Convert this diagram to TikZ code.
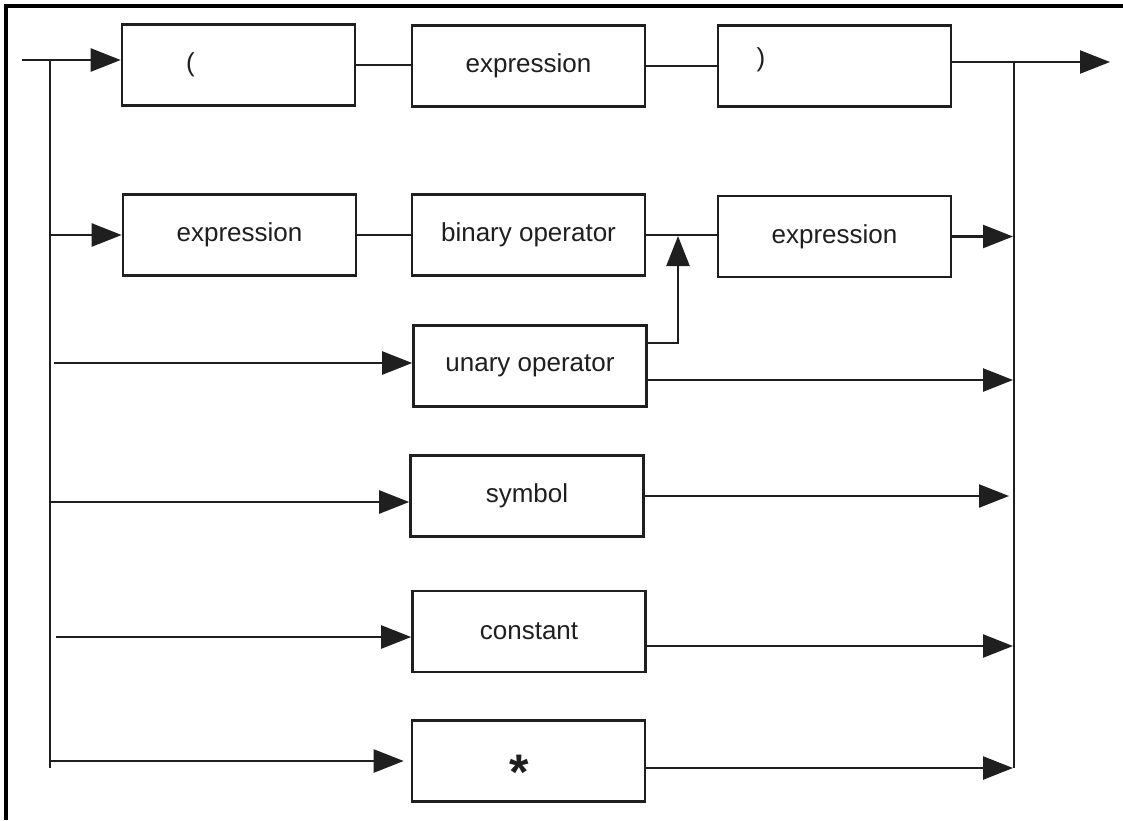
\documentclass[tikz,border=0pt]{standalone}
\usepackage{fontspec}
\setmainfont{Liberation Sans}
\usetikzlibrary{arrows.meta,calc}
\begin{document}
\begin{tikzpicture}[x=1pt,y=-1pt,
  box/.style={draw=black!88, line width=2.6pt, minimum width=233pt, minimum height=81pt,
    inner sep=0pt, font=\fontsize{26}{30}\selectfont, text=black!88},
  wire/.style={line width=2.4pt, draw=black!88},
  arr/.style={wire, -{Triangle[length=30pt,width=23pt]}},
  lbl/.style={font=\fontsize{26}{30}\selectfont, inner sep=0pt, text=black!88}]
\useasboundingbox (0,0) rectangle (1123,820);
\fill[white] (0,0) rectangle (1123,820);
% frame (top and left only)
\draw[line width=4pt] (6,820) -- (6,5.5) -- (1123,5.5);

% boxes
\node[box] (lp) at (238.5,65) {};
\node[lbl] (lpt) at (190.5,65) {(};
\node[box] (e1) at (528.5,66) {expression};
\node[box] (rp) at (834.5,66) {};
\node[lbl] (rpt) at (761,60) {)};
\node[box] (e2) at (239.5,235) {expression};
\node[box] (bo) at (528.5,235) {binary operator};
\node[box] (e3) at (834.5,236.5) {expression};
\node[box] (un) at (530,366) {unary operator};
\node[box] (sy) at (527,496) {symbol};
\node[box] (co) at (529,631.5) {constant};
\node[box] (st) at (528.5,761) {};
\node[lbl, font=\fontsize{50}{52}\selectfont\bfseries, anchor=base] (stt) at (519,789) {*};

% coordinates
\coordinate (in) at (22,60);
\coordinate (bl) at (50,60);
\coordinate (blb) at (50,768);
\coordinate (out) at (1110,62);
\coordinate (br) at (1014,62);
\coordinate (brb) at (1014,768);
\coordinate (j) at (678,236);

% buses
\draw[wire] (bl) -- (blb);
\draw[wire] (br) -- (brb);

% row 1
\draw[arr] (in) -- (in -| lp.west);
\draw[wire] (lp.east) -- (lp.east -| e1.west);
\draw[wire] (e1.east) -- (e1.east -| rp.west);
\draw[arr] (rp.east |- out) -- (out);

% row 2
\draw[arr] (e2.west -| bl) -- (e2.west);
\draw[wire] (e2.east) -- (e2.east -| bo.west);
\draw[wire] (bo.east) -- (bo.east -| e3.west);
\draw[arr] (e3.east) -- ($(e3.east -| br)+(-1,0)$);

% unary
\draw[arr] ($(un.west -| bl)+(4,-3)$) -- ($(un.west)+(0,-3)$);
\draw[arr] ($(un.east)+(0,-23)$) -| (j);
\draw[arr] ($(un.east)+(0,14)$) -- ($(un.east -| br)+(-1,14)$);

% symbol
\draw[arr] ($(sy.west -| bl)+(0,6)$) -- ($(sy.west)+(0,6)$);
\draw[arr] (sy.east) -- ($(sy.east -| br)+(-5,0)$);

% constant
\draw[arr] ($(co.west -| bl)+(6,5.5)$) -- ($(co.west)+(0,5.5)$);
\draw[arr] ($(co.east)+(0,14.5)$) -- ($(co.east -| br)+(-1,14.5)$);

% star
\draw[arr] (st.west -| bl) -- ($(st.west)+(-7,0)$);
\draw[arr] ($(st.east)+(0,7)$) -- ($(st.east -| br)+(-1,7)$);
\end{tikzpicture}
\end{document}
